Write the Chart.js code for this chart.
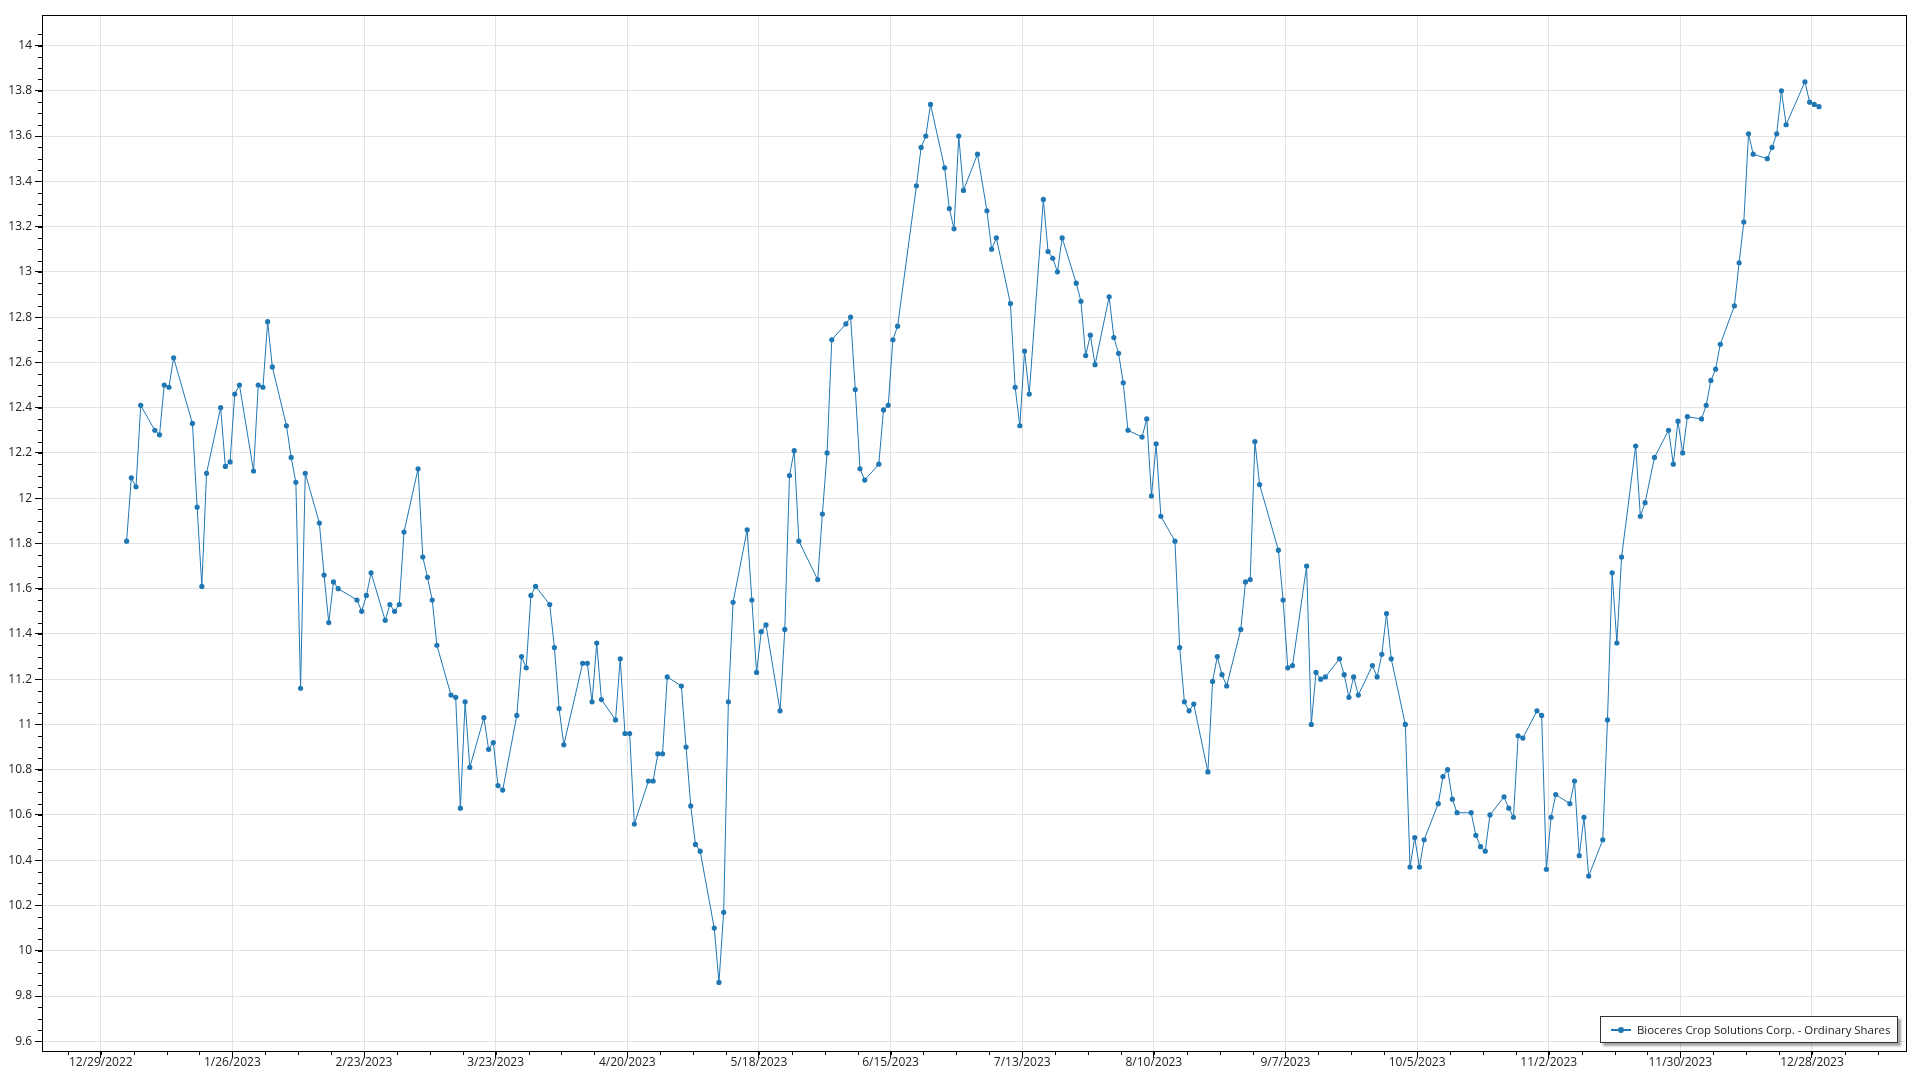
<!DOCTYPE html>
<html>
<head>
<meta charset="utf-8">
<script src="https://cdn.jsdelivr.net/npm/chart.js@4.4.1/dist/chart.umd.min.js"></script>
<style>
    html, body { margin: 0; padding: 0; background: #fff; }
    #wrap { position: relative; width: 1920px; height: 1080px; }
    #legend {
        position: absolute; left: 1600px; top: 1016px; width: 298px; height: 27px;
        background: #fff; border: 1px solid #333; box-shadow: 3px 3px 2px rgba(0,0,0,0.35);
        font: 11.4px "Open Sans", sans-serif; color: #222; white-space: nowrap;
        display: flex; align-items: center; box-sizing: border-box;
    }
    #legend .sym { position: relative; flex: none; width: 20px; height: 2px; margin-left: 10px; margin-right: 6px; background: #1f77b4; }
    #legend .sym::after {
        content: ''; position: absolute; left: 7px; top: -2px; width: 6px; height: 6px;
        border-radius: 50%; background: #1f77b4;
    }
</style>
</head>
<body>
<div id="wrap">
    <canvas id="chart" width="1920" height="1080"></canvas>
    <div id="legend"><span class="sym"></span><span>Bioceres Crop Solutions Corp. - Ordinary Shares</span></div>
</div>
<script>
const seriesName = 'Bioceres Crop Solutions Corp. - Ordinary Shares';

// trading days, 2023
const dates = [
    '2023-01-03','2023-01-04','2023-01-05','2023-01-06','2023-01-09','2023-01-10','2023-01-11','2023-01-12','2023-01-13',
    '2023-01-17','2023-01-18','2023-01-19','2023-01-20','2023-01-23','2023-01-24','2023-01-25','2023-01-26','2023-01-27',
    '2023-01-30','2023-01-31','2023-02-01','2023-02-02','2023-02-03','2023-02-06','2023-02-07','2023-02-08','2023-02-09',
    '2023-02-10','2023-02-13','2023-02-14','2023-02-15','2023-02-16','2023-02-17','2023-02-21','2023-02-22','2023-02-23',
    '2023-02-24','2023-02-27','2023-02-28','2023-03-01','2023-03-02','2023-03-03','2023-03-06','2023-03-07','2023-03-08',
    '2023-03-09','2023-03-10','2023-03-13','2023-03-14','2023-03-15','2023-03-16','2023-03-17','2023-03-20','2023-03-21',
    '2023-03-22','2023-03-23','2023-03-24','2023-03-27','2023-03-28','2023-03-29','2023-03-30','2023-03-31','2023-04-03',
    '2023-04-04','2023-04-05','2023-04-06','2023-04-10','2023-04-11','2023-04-12','2023-04-13','2023-04-14','2023-04-17',
    '2023-04-18','2023-04-19','2023-04-20','2023-04-21','2023-04-24','2023-04-25','2023-04-26','2023-04-27','2023-04-28',
    '2023-05-01','2023-05-02','2023-05-03','2023-05-04','2023-05-05','2023-05-08','2023-05-09','2023-05-10','2023-05-11',
    '2023-05-12','2023-05-15','2023-05-16','2023-05-17','2023-05-18','2023-05-19','2023-05-22','2023-05-23','2023-05-24',
    '2023-05-25','2023-05-26','2023-05-30','2023-05-31','2023-06-01','2023-06-02','2023-06-05','2023-06-06','2023-06-07',
    '2023-06-08','2023-06-09','2023-06-12','2023-06-13','2023-06-14','2023-06-15','2023-06-16','2023-06-20','2023-06-21',
    '2023-06-22','2023-06-23','2023-06-26','2023-06-27','2023-06-28','2023-06-29','2023-06-30','2023-07-03','2023-07-05',
    '2023-07-06','2023-07-07','2023-07-10','2023-07-11','2023-07-12','2023-07-13','2023-07-14','2023-07-17','2023-07-18',
    '2023-07-19','2023-07-20','2023-07-21','2023-07-24','2023-07-25','2023-07-26','2023-07-27','2023-07-28','2023-07-31',
    '2023-08-01','2023-08-02','2023-08-03','2023-08-04','2023-08-07','2023-08-08','2023-08-09','2023-08-10','2023-08-11',
    '2023-08-14','2023-08-15','2023-08-16','2023-08-17','2023-08-18','2023-08-21','2023-08-22','2023-08-23','2023-08-24',
    '2023-08-25','2023-08-28','2023-08-29','2023-08-30','2023-08-31','2023-09-01','2023-09-05','2023-09-06','2023-09-07',
    '2023-09-08','2023-09-11','2023-09-12','2023-09-13','2023-09-14','2023-09-15','2023-09-18','2023-09-19','2023-09-20',
    '2023-09-21','2023-09-22','2023-09-25','2023-09-26','2023-09-27','2023-09-28','2023-09-29','2023-10-02','2023-10-03',
    '2023-10-04','2023-10-05','2023-10-06','2023-10-09','2023-10-10','2023-10-11','2023-10-12','2023-10-13','2023-10-16',
    '2023-10-17','2023-10-18','2023-10-19','2023-10-20','2023-10-23','2023-10-24','2023-10-25','2023-10-26','2023-10-27',
    '2023-10-30','2023-10-31','2023-11-01','2023-11-02','2023-11-03','2023-11-06','2023-11-07','2023-11-08','2023-11-09',
    '2023-11-10','2023-11-13','2023-11-14','2023-11-15','2023-11-16','2023-11-17','2023-11-20','2023-11-21','2023-11-22',
    '2023-11-24','2023-11-27','2023-11-28','2023-11-29','2023-11-30','2023-12-01','2023-12-04','2023-12-05','2023-12-06',
    '2023-12-07','2023-12-08','2023-12-11','2023-12-12','2023-12-13','2023-12-14','2023-12-15','2023-12-18','2023-12-19',
    '2023-12-20','2023-12-21','2023-12-22','2023-12-26','2023-12-27','2023-12-28','2023-12-29'
];

const closes = [
    11.81,12.09,12.05,12.41,12.30,12.28,12.50,12.49,12.62,
    12.33,11.96,11.61,12.11,12.40,12.14,12.16,12.46,12.50,
    12.12,12.50,12.49,12.78,12.58,12.32,12.18,12.07,11.16,
    12.11,11.89,11.66,11.45,11.63,11.60,11.55,11.50,11.57,
    11.67,11.46,11.53,11.50,11.53,11.85,12.13,11.74,11.65,
    11.55,11.35,11.13,11.12,10.63,11.10,10.81,11.03,10.89,
    10.92,10.73,10.71,11.04,11.30,11.25,11.57,11.61,11.53,
    11.34,11.07,10.91,11.27,11.27,11.10,11.36,11.11,11.02,
    11.29,10.96,10.96,10.56,10.75,10.75,10.87,10.87,11.21,
    11.17,10.90,10.64,10.47,10.44,10.10,9.86,10.17,11.10,
    11.54,11.86,11.55,11.23,11.41,11.44,11.06,11.42,12.10,
    12.21,11.81,11.64,11.93,12.20,12.70,12.77,12.80,12.48,
    12.13,12.08,12.15,12.39,12.41,12.70,12.76,13.38,13.55,
    13.60,13.74,13.46,13.28,13.19,13.60,13.36,13.52,13.27,
    13.10,13.15,12.86,12.49,12.32,12.65,12.46,13.32,13.09,
    13.06,13.00,13.15,12.95,12.87,12.63,12.72,12.59,12.89,
    12.71,12.64,12.51,12.30,12.27,12.35,12.01,12.24,11.92,
    11.81,11.34,11.10,11.06,11.09,10.79,11.19,11.30,11.22,
    11.17,11.42,11.63,11.64,12.25,12.06,11.77,11.55,11.25,
    11.26,11.70,11.00,11.23,11.20,11.21,11.29,11.22,11.12,
    11.21,11.13,11.26,11.21,11.31,11.49,11.29,11.00,10.37,
    10.50,10.37,10.49,10.65,10.77,10.80,10.67,10.61,10.61,
    10.51,10.46,10.44,10.60,10.68,10.63,10.59,10.95,10.94,
    11.06,11.04,10.36,10.59,10.69,10.65,10.75,10.42,10.59,
    10.33,10.49,11.02,11.67,11.36,11.74,12.23,11.92,11.98,
    12.18,12.30,12.15,12.34,12.20,12.36,12.35,12.41,12.52,
    12.57,12.68,12.85,13.04,13.22,13.61,13.52,13.50,13.55,
    13.61,13.80,13.65,13.84,13.75,13.74,13.73
];

// axis ticks
const xTickDates = ['2022-12-29','2023-01-26','2023-02-23','2023-03-23','2023-04-20','2023-05-18','2023-06-15',
    '2023-07-13','2023-08-10','2023-09-07','2023-10-05','2023-11-02','2023-11-30','2023-12-28'];
const yTicks = [9.6, 9.8, 10, 10.2, 10.4, 10.6, 10.8, 11, 11.2, 11.4, 11.6, 11.8, 12, 12.2, 12.4, 12.6, 12.8, 13, 13.2, 13.4, 13.6, 13.8, 14];

const DAY = 86400000;
const origin = Date.UTC(2022, 11, 29);
const toDay = s => (Date.parse(s + 'T00:00:00Z') - origin) / DAY;
const fromDay = d => {
    const dt = new Date(origin + Math.round(d) * DAY);
    return (dt.getUTCMonth() + 1) + '/' + dt.getUTCDate() + '/' + dt.getUTCFullYear();
};

const points = dates.map((d, i) => ({ x: toDay(d) + 0.5, y: closes[i] }));
const xTickVals = xTickDates.map(toDay);

const blue = '#1f77b4';
const font = { family: '"Open Sans", sans-serif', size: 12 };

// frame + minor ticks, oxyplot style
const framePlugin = {
    id: 'frame',
    afterDraw(chart) {
        const { ctx, chartArea: a, scales } = chart;
        ctx.save();
        ctx.strokeStyle = '#000';
        ctx.lineWidth = 1;
        ctx.beginPath();
        // minor ticks
        for (let v = 9.6; v <= 14.1; v += 0.05) {
            const y = Math.round(scales.y.getPixelForValue(v)) + 0.5;
            if (y < a.top || y > a.bottom) continue;
            ctx.moveTo(a.left - 4, y); ctx.lineTo(a.left, y);
        }
        for (let d = -7; d <= 384; d += 7) {
            const x = Math.round(scales.x.getPixelForValue(d)) + 0.5;
            if (x < a.left || x > a.right) continue;
            ctx.moveTo(x, a.bottom); ctx.lineTo(x, a.bottom + 4);
        }
        ctx.stroke();
        ctx.strokeRect(Math.round(a.left) + 0.5, Math.round(a.top) + 0.5,
            Math.round(a.right - a.left), Math.round(a.bottom - a.top));
        ctx.restore();
    }
};

new Chart(document.getElementById('chart'), {
    type: 'line',
    data: {
        datasets: [{
            label: seriesName,
            data: points,
            borderColor: blue,
            backgroundColor: blue,
            borderWidth: 1,
            pointRadius: 2.6,
            pointBorderWidth: 0,
            pointBackgroundColor: blue,
            tension: 0
        }]
    },
    options: {
        responsive: false,
        animation: false,
        devicePixelRatio: 1,
        layout: { padding: { top: 15, right: 14, left: 0, bottom: 0 } },
        plugins: { legend: { display: false }, tooltip: { enabled: false } },
        scales: {
            x: {
                type: 'linear',
                min: -12.5,
                max: 384,
                afterBuildTicks: s => { s.ticks = xTickVals.map(v => ({ value: v })); },
                afterFit: s => { s.height = 29; },
                grid: { color: '#e2e2e2', tickColor: '#000', tickLength: 7 },
                border: { display: false },
                ticks: { font, color: '#222', padding: -3, maxRotation: 0, autoSkip: false,
                    callback: v => fromDay(v) }
            },
            y: {
                min: 9.557,
                max: 14.135,
                afterBuildTicks: s => { s.ticks = yTicks.map(v => ({ value: v })); },
                afterFit: s => { s.width = 42; },
                grid: { color: '#e2e2e2', tickColor: '#000', tickLength: 7 },
                border: { display: false },
                ticks: { font, color: '#222', padding: 3, autoSkip: false,
                    callback: v => String(parseFloat(v.toFixed(2))) }
            }
        }
    },
    plugins: [framePlugin]
});
</script>
</body>
</html>
